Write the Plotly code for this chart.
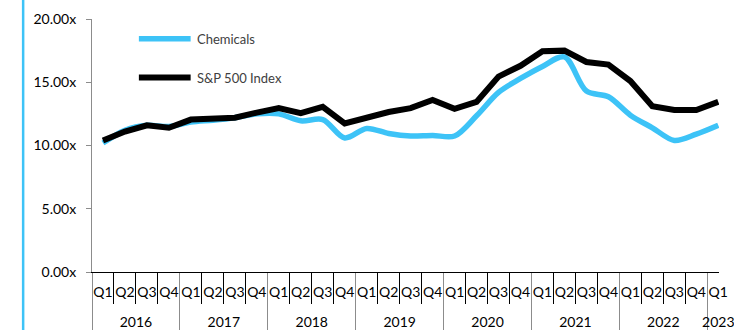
import plotly.graph_objects as go

# ---- data ----
years = ["2016", "2017", "2018", "2019", "2020", "2021", "2022", "2023"]
quarters_per_year = [4, 4, 4, 4, 4, 4, 4, 1]
quarter_labels = ["Q1", "Q2", "Q3", "Q4"]

chemicals = [10.2, 11.2, 11.6, 11.5, 11.85, 12.0, 12.2, 12.5,
             12.5, 11.95, 12.05, 10.6, 11.35, 10.95, 10.75, 10.8,
             10.75, 12.35, 14.2, 15.3, 16.25, 17.0, 14.3, 13.85,
             12.4, 11.4, 10.4, 10.9, 11.6]
sp500 = [10.4, 11.1, 11.6, 11.4, 12.05, 12.1, 12.2, 12.6,
         12.95, 12.55, 13.05, 11.75, 12.2, 12.65, 12.95, 13.6,
         12.9, 13.45, 15.45, 16.3, 17.45, 17.5, 16.6, 16.4,
         15.1, 13.1, 12.8, 12.8, 13.45]

series_names = ["Chemicals", "S&P 500 Index"]
y_ticks = [0, 5, 10, 15, 20]
y_tick_text = [f"{v:.2f}x" for v in y_ticks]

# a blank second line under each quarter label pushes the year row lower
x_years = []
x_quarters = []
for y, n in zip(years, quarters_per_year):
    for q in quarter_labels[:n]:
        x_years.append(y)
        x_quarters.append(q + "<br>\u00a0")

BLUE = "#3DC3F7"
FONT = "Lato"

W, H = 734, 330
ML, MR, MT, MB = 92, 0, 19, 56
PW, PH = W - ML - MR, H - MT - MB
QPX = 22.5  # pixels per quarter


def px_x(p):
    return (p - ML) / PW


def px_y(p):
    return (H - MB - p) / PH


fig = go.Figure()
fig.add_trace(go.Scatter(
    x=[x_years, x_quarters], y=chemicals, name=series_names[0],
    mode="lines", line=dict(color=BLUE, width=5.5, shape="spline", smoothing=0.9),
    showlegend=False, hoverinfo="skip"))
fig.add_trace(go.Scatter(
    x=[x_years, x_quarters], y=sp500, name=series_names[1],
    mode="lines", line=dict(color="#000000", width=6),
    showlegend=False, hoverinfo="skip"))

x_end = PW / QPX - 0.5

fig.update_layout(
    width=W, height=H,
    margin=dict(l=ML, r=MR, t=MT, b=MB, pad=0),
    paper_bgcolor="white", plot_bgcolor="white",
    font=dict(family=FONT, size=14, color="#000000"),
    xaxis=dict(
        type="multicategory", range=[-0.5, x_end],
        showline=True, linecolor="#000000", linewidth=1,
        ticks="outside", tickson="boundaries", ticklen=31, tickcolor="#000000", tickwidth=1,
        showdividers=True, dividercolor="#8C8C8C", dividerwidth=1,
        showgrid=False, zeroline=False,
        tickangle=0,
        ticklabelstandoff=7,
        tickfont=dict(family=FONT, size=14, color="#000000"),
    ),
    yaxis=dict(
        range=[0, 20], tickmode="array", tickvals=y_ticks, ticktext=y_tick_text,
        showline=True, linecolor="#8C8C8C", linewidth=1,
        ticks="outside", ticklen=5, tickcolor="#8C8C8C",
        ticklabelstandoff=7,
        showgrid=False, zeroline=False,
        tickfont=dict(family=FONT, size=14, color="#000000"),
    ),
)

# decorative vertical rule at the left edge
fig.add_shape(type="line", xref="paper", yref="paper",
              x0=px_x(21.5), x1=px_x(21.5), y0=px_y(H + 5), y1=px_y(-5),
              line=dict(color=BLUE, width=2.5))

# custom legend
legend_rows = [(39, BLUE, 5.5), (78, "#000000", 6)]
for (ypx, col, lw), name in zip(legend_rows, series_names):
    fig.add_shape(type="line", xref="paper", yref="paper",
                  x0=px_x(140), x1=px_x(193), y0=px_y(ypx), y1=px_y(ypx),
                  line=dict(color=col, width=lw))
    fig.add_annotation(xref="paper", yref="paper", x=px_x(197), y=px_y(ypx),
                       text=name, showarrow=False, xanchor="left", yanchor="middle",
                       font=dict(family=FONT, size=13, color="#404040"))

fig.write_html("out.html")
